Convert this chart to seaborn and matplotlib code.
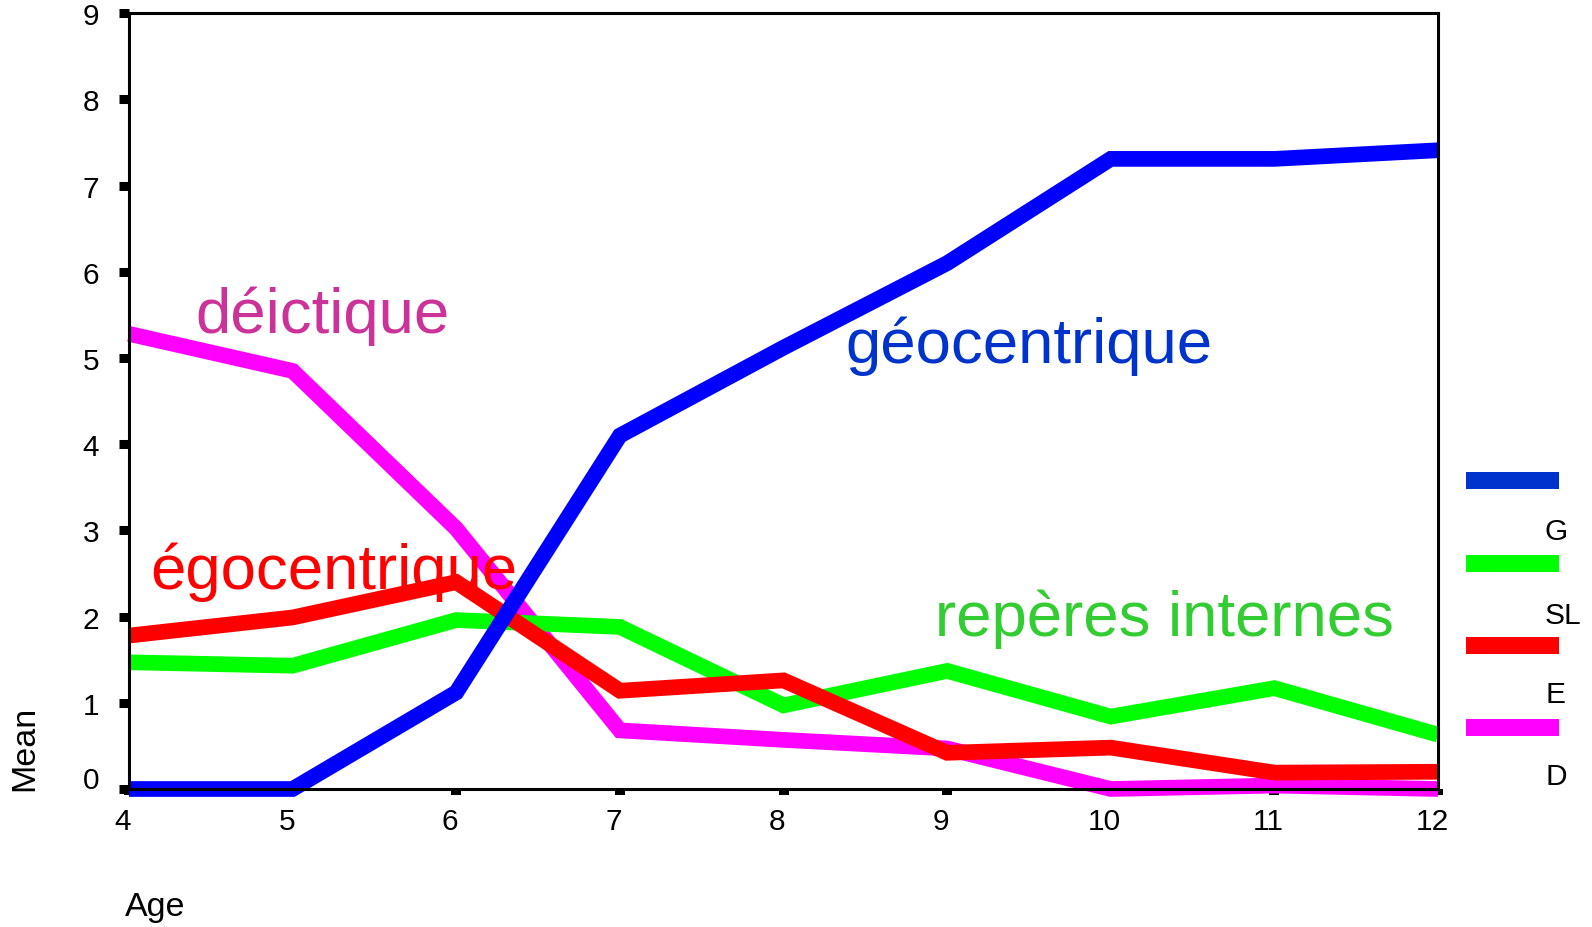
import matplotlib
matplotlib.use("Agg")
import matplotlib.pyplot as plt
from matplotlib.patches import Rectangle
from matplotlib.transforms import ScaledTranslation
import seaborn as sns
import pandas as pd

# ---- data ----
ages = [4, 5, 6, 7, 8, 9, 10, 11, 12]
geo = [0.0, 0.0, 1.12, 4.10, 5.12, 6.10, 7.31, 7.31, 7.41]        # G
sl = [1.47, 1.43, 1.96, 1.88, 0.97, 1.37, 0.84, 1.17, 0.63]       # SL
ego = [1.78, 1.99, 2.40, 1.14, 1.26, 0.42, 0.48, 0.19, 0.20]      # E
dei = [5.28, 4.85, 3.02, 0.68, 0.57, 0.47, 0.0, 0.04, 0.0]        # D

series_codes = ["G", "SL", "E", "D"]
series_values = [geo, sl, ego, dei]
line_colors = {"G": "#0000ff", "SL": "#00ff00", "E": "#ff0000", "D": "#ff00ff"}
legend_colors = ["#0033cc", "#00ff00", "#ff0000", "#ff00ff"]
draw_order = ["D", "SL", "E", "G"]

annot_texts = ["déictique", "géocentrique", "égocentrique", "repères internes"]
annot_colors = ["#cc3399", "#0033cc", "#ff0000", "#33cc33"]
annot_pos = [(0.0504, 0.589), (0.547, 0.550), (0.016, 0.259), (0.6157, 0.1985)]

yticks = list(range(0, 10))

rows = []
for code, vals in zip(series_codes, series_values):
    for a, v in zip(ages, vals):
        rows.append({"Age": a, "Mean": v, "series": code})
df = pd.DataFrame(rows)

# ---- figure ----
sns.set_theme(style="white")
plt.rcParams["font.family"] = ["Liberation Sans", "DejaVu Sans"]

W, H, DPI = 1592, 928, 100
fig = plt.figure(figsize=(W / DPI, H / DPI), dpi=DPI)
ax = fig.add_axes([129 / W, 1 - 790 / H, (1438 - 129) / W, (790 - 14.2) / H])

sns.lineplot(data=df, x="Age", y="Mean", hue="series", hue_order=draw_order,
             palette=line_colors, linewidth=11.3, legend=False, ax=ax,
             estimator=None, sort=False)
for ln in ax.get_lines():
    ln.set_clip_on(False)
    ln.set_solid_capstyle("butt")
    ln.set_solid_joinstyle("miter")

ax.set_xlim(4, 12)
ax.set_ylim(0, 9)
ax.set_xticks(ages)
ax.set_xticklabels([str(a) for a in ages])
ax.set_yticks(yticks)
ax.set_yticklabels([str(t) for t in yticks])

for sp in ax.spines.values():
    sp.set_visible(True)
    sp.set_color("black")
    sp.set_linewidth(2.2)

ax.tick_params(axis="y", direction="out", length=7.2, width=6.5, pad=14.4,
               labelsize=21.5, colors="black", left=True)
ax.tick_params(axis="x", direction="out", length=4.3, width=7.2, pad=9.0,
               labelsize=21.5, colors="black", bottom=True)

for lab in ax.get_xticklabels():
    lab.set_transform(lab.get_transform() + ScaledTranslation(-6 / DPI, 0, fig.dpi_scale_trans))
ylabs = ax.get_yticklabels()
ylabs[0].set_transform(ylabs[0].get_transform() + ScaledTranslation(0, 12 / DPI, fig.dpi_scale_trans))

ax.set_xlabel("Age", fontsize=24.5, color="black", ha="left", va="center")
ax.xaxis.set_label_coords((125 - 129) / 1309, (790 - 908) / 775.8)
ax.set_ylabel("Mean", fontsize=24.5, color="black", ha="center", va="center")
ax.yaxis.set_label_coords((25 - 129) / 1309, (790 - 748) / 775.8)

for txt, col, (tx, ty) in zip(annot_texts, annot_colors, annot_pos):
    ax.text(tx, ty, txt, transform=ax.transAxes, color=col, fontsize=45.7,
            ha="left", va="baseline", zorder=5)

# ---- legend (bars with labels below) ----
bar_y = [481.5, 564, 646, 728]
lab_y = [532, 616, 695, 777]
for code, col, by, ly in zip(series_codes, legend_colors, bar_y, lab_y):
    fig.add_artist(Rectangle((1466 / W, 1 - (by + 8.5) / H), 93 / W, 17 / H,
                             transform=fig.transFigure, facecolor=col,
                             edgecolor="none"))
    fig.text(1545 / W, 1 - ly / H, code, fontsize=21.5, color="black",
             ha="left", va="center")

fig.savefig("out.png", dpi=DPI, facecolor="white")
